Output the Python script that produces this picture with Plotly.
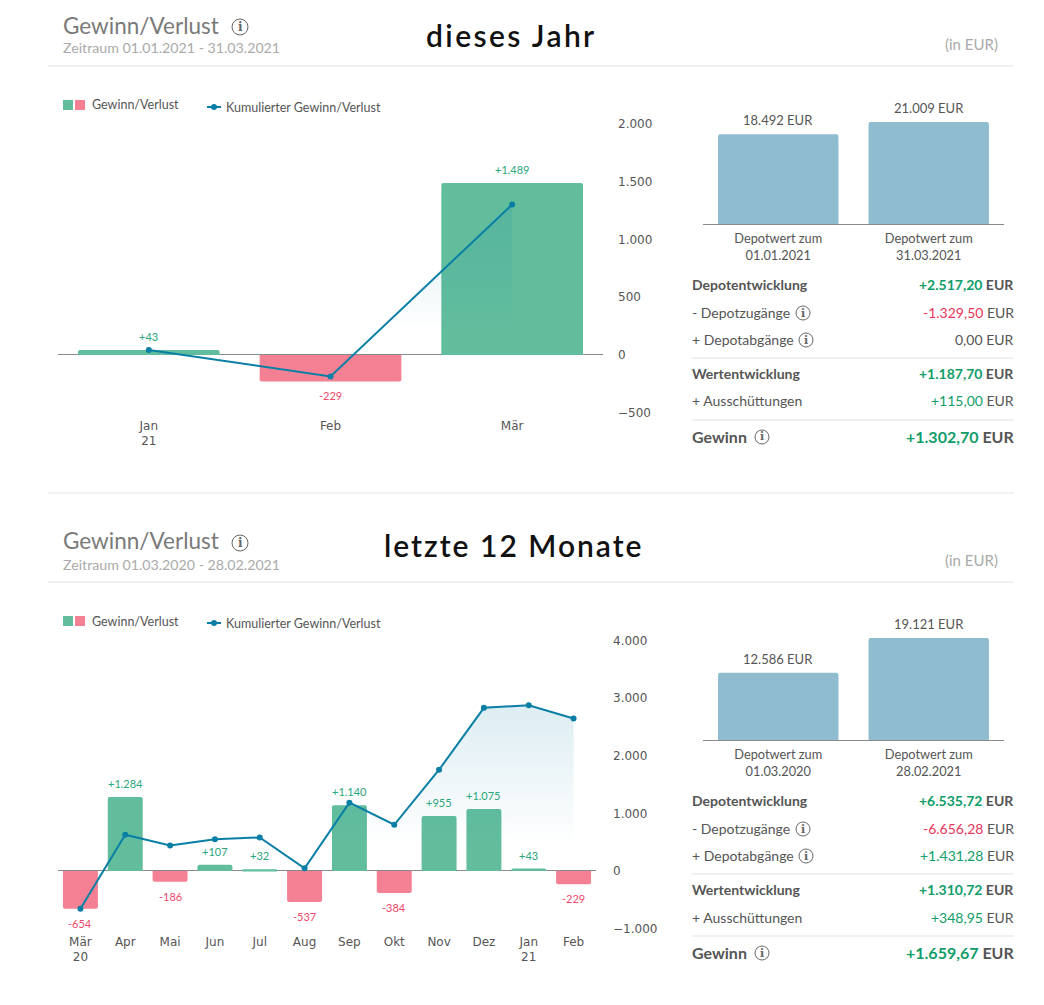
import plotly.graph_objects as go

# chart data, top panel = dieses Jahr, bottom panel = letzte 12 Monate
months_year = ["Jan<br>21", "Feb", "Mär"]
gain_year = [43, -229, 1489]
cum_year = [43, -186, 1303]

months_12 = ["Mär<br>20", "Apr", "Mai", "Jun", "Jul", "Aug", "Sep", "Okt", "Nov", "Dez", "Jan<br>21", "Feb"]
gain_12 = [-654, 1284, -186, 107, 32, -537, 1140, -384, 955, 1075, 43, -229]
cum_12 = [-654, 630, 444, 551, 583, 46, 1186, 802, 1757, 2832, 2875, 2646]

depot_labels_year = ["Depotwert zum<br>01.01.2021", "Depotwert zum<br>31.03.2021"]
depot_year = [18492, 21009]
depot_labels_12 = ["Depotwert zum<br>01.03.2020", "Depotwert zum<br>28.02.2021"]
depot_12 = [12586, 19121]

rows_year = [
    ("Depotentwicklung", "+2.517,20", True, False),
    ("- Depotzugänge", "-1.329,50", False, True),
    ("+ Depotabgänge", "0,00", False, True),
    ("Wertentwicklung", "+1.187,70", True, False),
    ("+ Ausschüttungen", "+115,00", False, False),
    ("Gewinn", "+1.302,70", True, True),
]
rows_12 = [
    ("Depotentwicklung", "+6.535,72", True, False),
    ("- Depotzugänge", "-6.656,28", False, True),
    ("+ Depotabgänge", "+1.431,28", False, True),
    ("Wertentwicklung", "+1.310,72", True, False),
    ("+ Ausschüttungen", "+348,95", False, False),
    ("Gewinn", "+1.659,67", True, True),
]

GREEN = "#62bd9d"
RED = "#f48093"
LINE = "#0a7fa6"
BLUE = "#90bcd0"
TEXT = "#555555"
TEXT_GREEN = "#0f9d69"
TEXT_RED = "#e8365a"
SANS = "Lato"
TICK = "DejaVu Sans"

W, H = 1044, 1005
PAD = 8  # default body margin of the page


def px_x(x):
    return (x - PAD) / (W - 2 * PAD)


def px_y(y):
    return 1 - (y - PAD) / (H - 2 * PAD)


fig = go.Figure()
annotations = []
shapes = []


def text(x, y, s, size=13, color=TEXT, anchor="left", font=SANS, weight=None):
    # annotations keep a small inner padding, so push the text back by that much
    nudge = {"left": -2, "right": 2, "center": 0}[anchor]
    annotations.append(dict(x=px_x(x + nudge), y=px_y(y), xref="paper", yref="paper", text=s, showarrow=False,
                            xanchor=anchor, yanchor="middle", align=anchor,
                            font=dict(size=size, color=color, family=font, weight=weight)))


def rule(x0, x1, y, color="#e2e2e2"):
    shapes.append(dict(type="line", xref="paper", yref="paper", x0=px_x(x0), x1=px_x(x1),
                       y0=px_y(y), y1=px_y(y), line=dict(color=color, width=1)))


def info(x, y, r=7, color="#666666", size=11):
    shapes.append(dict(type="circle", xref="paper", yref="paper", x0=px_x(x - r), x1=px_x(x + r),
                       y0=px_y(y + r), y1=px_y(y - r), line=dict(color=color, width=1)))
    text(x, y, "<b>i</b>", size=size, color=color, anchor="center", font="DejaVu Serif")


def panel(n, months, gain, cum, labels, depot, rows, dy, x_right, y_top, y_bot, y_range, dtick,
          period, note, note_x, note_y, spacing, standoff, head):
    xa, ya = f"x{2 * n - 1}", f"y{2 * n - 1}"
    xb, yb = f"x{2 * n}", f"y{2 * n}"
    fig.add_bar(x=months, y=gain, xaxis=xa, yaxis=ya, width=0.78, showlegend=False,
                marker=dict(color=[GREEN if v >= 0 else RED for v in gain], cornerradius=2, line_width=0))
    fig.add_scatter(x=months, y=cum, xaxis=xa, yaxis=ya, mode="lines+markers", showlegend=False,
                    line=dict(color=LINE, width=2), marker=dict(color=LINE, size=6),
                    fill="tozeroy",
                    fillgradient=dict(type="vertical", start=max(cum), stop=max(cum) * 0.15,
                                      colorscale=[[0, "rgba(10,127,166,0.14)"], [1, "rgba(10,127,166,0)"]]))
    layout = {
        f"xaxis{2 * n - 1}": dict(domain=[px_x(58), px_x(x_right)], anchor=ya, type="category", automargin=False,
                                  range=[-0.5, len(months) - 0.5], showgrid=False, showline=False, ticks="",
                                  ticklabelstandoff=4, tickfont=dict(family=TICK, size=12, color=TEXT), tickangle=0),
        f"yaxis{2 * n - 1}": dict(domain=[px_y(y_bot), px_y(y_top)], anchor=xa, side="right", range=y_range,
                                  dtick=dtick, showgrid=False, zeroline=True, zerolinecolor="#8a8a8a",
                                  zerolinewidth=1, showline=False, ticks="", ticklabelstandoff=standoff,
                                  automargin=False, tickformat=",d", tickfont=dict(family=TICK, size=12, color=TEXT)),
        f"xaxis{2 * n}": dict(domain=[px_x(703), px_x(1004)], anchor=yb, type="category", range=[-0.5, 1.5],
                              showgrid=False, showline=True, linecolor="#8a8a8a", linewidth=1, ticks="",
                              ticklabelstandoff=3, automargin=False, tickfont=dict(family=SANS, size=12.8, color=TEXT)),
        f"yaxis{2 * n}": dict(domain=[px_y(dy + 224), px_y(dy + 122)], anchor=xb, range=[0, max(depot)],
                              visible=False, automargin=False),
    }
    fig.update_layout(**layout)
    fig.add_bar(x=labels, y=depot, xaxis=xb, yaxis=yb, width=0.8, showlegend=False,
                marker=dict(color=BLUE, cornerradius=2, line_width=0))
    for lab, v in zip(labels, depot):
        annotations.append(dict(x=lab, y=v, xref=xb, yref=yb, text=f"{v:,} EUR".replace(",", "."), showarrow=False,
                                yanchor="bottom", yshift=4, font=dict(family=SANS, size=13, color=TEXT)))
    for m, v in zip(months, gain):
        annotations.append(dict(x=m, y=v, xref=xa, yref=ya, text=f"{v:+,}".replace(",", "."), showarrow=False,
                                yanchor="bottom" if v >= 0 else "top", yshift=5 if v >= 0 else -6,
                                font=dict(family=SANS, size=11, color="#2aa67c" if v >= 0 else "#ee4a6c")))

    # header
    text(63, head, "Gewinn/Verlust", size=22.5, color="#7a7a7a")
    info(240, dy + 27, r=8, size=12)
    text(63, dy + 48, period, size=14.2, color="#aaaaaa")
    text(998, dy + 44, "(in EUR)", size=15, color="#aaaaaa", anchor="right")
    text(note_x, note_y, f'<span style="letter-spacing:{spacing}px">{note}</span>', size=30, color="#111111",
         anchor="center", weight=600)
    rule(48, 1014, dy + 66)

    # legend
    ly = dy + 105
    for x0, c in [(63, GREEN), (75, RED)]:
        shapes.append(dict(type="rect", xref="paper", yref="paper", x0=px_x(x0), x1=px_x(x0 + 10),
                           y0=px_y(ly + 5), y1=px_y(ly - 5), fillcolor=c, line_width=0))
    text(92, ly, "Gewinn/Verlust", size=12.5)
    shapes.append(dict(type="line", xref="paper", yref="paper", x0=px_x(207), x1=px_x(221),
                       y0=px_y(ly + 2), y1=px_y(ly + 2), line=dict(color=LINE, width=2)))
    shapes.append(dict(type="circle", xref="paper", yref="paper", x0=px_x(211), x1=px_x(217),
                       y0=px_y(ly + 5), y1=px_y(ly - 1), fillcolor=LINE, line_width=0))
    text(226, ly + 2, "Kumulierter Gewinn/Verlust", size=12.5)

    # table below the small bars
    offs = [284, 312, 339, 373, 401, 436]
    for (label, value, bold, icon), y in zip(rows, offs):
        y = y + dy
        size = 16 if label == "Gewinn" else 14
        vcol = TEXT if value == "0,00" else (TEXT_RED if value.startswith("-") else TEXT_GREEN)
        left = f"<b>{label}</b>" if bold else label
        val = f'<span style="color:{vcol}">{value}</span> EUR'
        text(692, y, left, size=size)
        text(1014, y, f"<b>{val}</b>" if bold else val, size=size, anchor="right")
        if icon:
            ix = {"- Depotzugänge": 803, "+ Depotabgänge": 806, "Gewinn": 762}[label]
            info(ix, y + 1, r=7)
    rule(692, 1014, dy + 358)
    rule(692, 1014, dy + 420)


panel(1, months_year, gain_year, cum_year, depot_labels_year, depot_year, rows_year, 0, 603, 124, 412.7,
      [-500, 2000], 500, "Zeitraum 01.01.2021 - 31.03.2021", "dieses Jahr", 511, 35, 2.4, 14, 25)
panel(2, months_12, gain_12, cum_12, depot_labels_12, depot_12, rows_12, 516, 596, 640.5, 928.6,
      [-1000, 4000], 1000, "Zeitraum 01.03.2020 - 28.02.2021", "letzte 12 Monate", 514, 545, 2.0, 16, 540)
rule(48, 1014, 493)

fig.update_layout(width=W - 2 * PAD, height=H - 2 * PAD, margin=dict(l=0, r=0, t=0, b=0),
                  paper_bgcolor="white", plot_bgcolor="rgba(0,0,0,0)", separators=",.", hovermode=False,
                  bargap=0.2, annotations=annotations, shapes=shapes,
                  font=dict(family=SANS, color=TEXT))

fig.write_html("out.html")
